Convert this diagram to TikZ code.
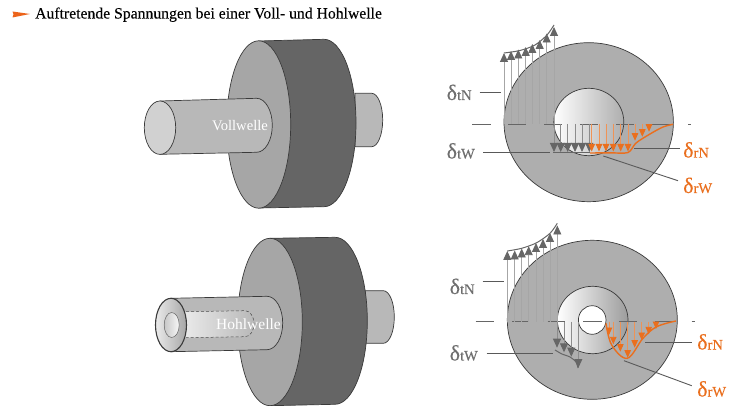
\documentclass[tikz,border=0pt]{standalone}
\usepackage{fontspec}
\setmainfont{Liberation Serif}
\usetikzlibrary{arrows.meta}
\definecolor{org}{HTML}{EA6F1E}
\definecolor{dgr}{HTML}{666666}
\definecolor{lbl}{HTML}{6E6E6E}
\definecolor{face}{HTML}{A6A6A6}
\definecolor{band}{HTML}{656565}
\definecolor{shaftc}{HTML}{B8B8B8}
\definecolor{discc}{HTML}{AEAEAE}
\definecolor{edgec}{HTML}{3A3A3A}
\newcommand{\dlab}[2]{{\addfontfeature{FakeBold=0.2}\fontsize{22}{22}\selectfont δ}{\addfontfeature{FakeBold=0.2}\fontsize{14.5}{14.5}\selectfont #1#2}}
\tikzset{
  edge/.style={draw=edgec,line width=.7pt},
  upa/.style={draw=black!35,line width=.9pt,-{Triangle[length=9pt,width=8pt,color=dgr]}},
  dna/.style={draw=black!45,line width=.9pt,-{Triangle[length=9pt,width=8pt,color=dgr]}},
  ora/.style={draw=org!75,line width=.9pt,-{Triangle[length=7.5pt,width=6.5pt,color=org]}},
  leader/.style={draw=black!65,line width=.9pt},
  cline/.style={draw=black!60,line width=.9pt},
  curveg/.style={draw=dgr,line width=1pt},
  curveo/.style={draw=org,line width=1.4pt},
  glab/.style={text=lbl,inner sep=0pt,anchor=base west},
  olab/.style={text=org,inner sep=0pt,anchor=base west},
  wlab/.style={text=white,inner sep=0pt},
}
\begin{document}
\begin{tikzpicture}[x=1pt,y=1pt]
\useasboundingbox (0,0) rectangle (750,-406);
\fill[white] (0,0) rectangle (750,-406);
% title
\fill[org!90!red] (12.5,-11.5) -- (30,-14) -- (12.5,-17.5) -- (13.5,-14.5) -- cycle;
\node[inner sep=0pt,anchor=base west] (title) at (35,-18.5) {\addfontfeature{FakeBold=0.15}\fontsize{15.7}{16}\selectfont Auftretende Spannungen bei einer Voll- und Hohlwelle};

% --- top shaft
\draw[edge,fill=shaftc] (355,-93.3) -- (371.7,-93.3) arc[start angle=90,end angle=-90,x radius=11,y radius=26.7] -- (355,-146.7) -- cycle;
\draw[edge,fill=band] (258.7,-41) -- (324,-39.3) arc[start angle=90,end angle=-90,x radius=32,y radius=83.7] -- (258.7,-208) -- cycle;
\draw[edge,fill=face] (258.7,-124.5) ellipse[x radius=32,y radius=83.7];
\draw[edge,fill=shaftc] (160,-101) -- (256.6,-98.3) arc[start angle=90,end angle=-90,x radius=15.7,y radius=27] -- (160,-154.3) -- cycle;
\draw[edge,fill=black!18] (160,-127.7) ellipse[x radius=15.7,y radius=26.7];
\node[wlab,font=\fontsize{14.6}{15}\selectfont] (voll) at (240,-125.5) {Vollwelle};

% --- bottom shaft
\draw[edge,fill=shaftc] (365,-290.7) -- (383.3,-290.7) arc[start angle=90,end angle=-90,x radius=11,y radius=26.3] -- (365,-343.3) -- cycle;
\draw[edge,fill=band] (270,-238.3) -- (335,-237.3) arc[start angle=90,end angle=-90,x radius=32.3,y radius=83.5] -- (270,-405.7) -- cycle;
\draw[edge,fill=face] (270,-322) ellipse[x radius=32.3,y radius=83.7];
\draw[edge,fill=shaftc] (171,-298.3) -- (267,-296.3) arc[start angle=90,end angle=-90,x radius=15.7,y radius=26.7] -- (171,-351.7) -- cycle;
\shade[left color=black!8,middle color=black!6,right color=shaftc] (183,-311.7) -- (245,-310.7) arc[start angle=90,end angle=-90,x radius=9,y radius=13] -- (183,-337.7) -- cycle;
\draw[densely dashed,draw=black!70,line width=.5pt] (186,-311.7) -- (245,-310.7) arc[start angle=90,end angle=-90,x radius=9,y radius=13] -- (186,-337.7);
\draw[draw=edgec,line width=1.1pt,left color=black!8,right color=black!35] (171,-325) ellipse[x radius=15.5,y radius=26.7];
\draw[draw=black!60,line width=.5pt,left color=black!22,right color=black!3] (171.7,-325) ellipse[x radius=7.5,y radius=12.5];
\node[wlab,font=\fontsize{15.5}{16}\selectfont] (hohl) at (248.5,-324.5) {Hohlwelle};

% --- top cross section
\draw[edge,fill=discc] (588.7,-122.2) ellipse[x radius=84.7,y radius=79.5];
\draw[edge,shading angle=-40,left color=white,right color=discc] (588.8,-122) ellipse[x radius=35,y radius=33.7];
\foreach \a/\b in {472.3/490.7,508.3/526,544/561.7,580/597.7,616/634,652/670,688.3/691}
  \draw[cline] (\a,-124) -- (\b,-124);
\foreach \x/\y in {504/53,511/51,518.3/49.5,525.7/47,532.3/44,539.7/40,546.7/33.5,554/27}
  \draw[upa] (\x,-124) -- (\x,-\y);
\draw[curveg] plot[smooth] coordinates {(504,-53) (520,-50.5) (535,-45) (547,-35) (554,-25)};
\foreach \x in {554,560.7,567.7,575,582,589.3}
  \draw[dna] (\x,-124) -- (\x,-152);
\draw[draw=dgr,line width=1.1pt] (553,-152.5) -- (590,-152.5);
\foreach \x/\y in {591.7/151.5,599/151.5,606/151.5,613.3/151.5,620.7/151.5,628/151.5,635/140.7,642.3/136.7,649/131.7}
  \draw[ora] (\x,-124) -- (\x,-\y);
\draw[curveo] plot[smooth,tension=.5] coordinates {(590,-153) (610,-152.8) (628,-152.5) (636,-143) (650,-134) (663,-127) (673,-124.3)};
\node[glab] (a1) at (446.5,-100) {\dlab tN};
\coordinate (a1l) at (479.5,-92);
\coordinate (a1r) at (500.7,-92);
\draw[leader] (a1l) -- (a1r);
\node[glab] (a2) at (446.5,-158.5) {\dlab tW};
\coordinate (a2l) at (483.3,-152.3);
\coordinate (a2r) at (550,-152.3);
\draw[leader] (a2l) -- (a2r);
\node[olab] (a3) at (683,-157.5) {\dlab rN};
\coordinate (a3l) at (634,-148);
\coordinate (a3r) at (680,-148);
\draw[leader] (a3l) -- (a3r);
\node[olab] (a4) at (683,-193) {\dlab rW};
\coordinate (a4l) at (603.3,-156);
\coordinate (a4r) at (678,-180.7);
\draw[leader] (a4l) -- (a4r);

% --- bottom cross section
\draw[edge,fill=discc] (592.3,-319.8) ellipse[x radius=85,y radius=79.5];
\draw[edge,shading angle=-20,left color=white,right color=discc!90!black] (592.7,-320) ellipse[x radius=35.3,y radius=33.7];
\draw[edge,fill=white] (592.2,-320) ellipse[x radius=13.8,y radius=14.3];
\foreach \a/\b in {475.7/494,512/529.3,547.7/565,583.3/601.7,619.3/636.7,655/673.3,691.7/695}
  \draw[cline] (\a,-321.7) -- (\b,-321.7);
\foreach \x/\y in {507.3/251,514.7/250.5,521.7/248.5,528.7/246.2,536/243,543/239,550/233,557.3/225.5}
  \draw[upa] (\x,-321.7) -- (\x,-\y);
\draw[curveg] plot[smooth] coordinates {(507.3,-251) (521.7,-248.3) (536.7,-242.7) (550,-233.3) (557.3,-223.3)};
\foreach \x/\y in {557/347.7,564/352.3,571.3/356.7,578.3/368}
  \draw[dna] (\x,-321.7) -- (\x,-\y);
\draw[curveg] plot[smooth] coordinates {(555,-350) (562,-354) (570,-357) (576,-362) (578,-368)};
\foreach \x/\y in {609/335,613.3/344.3,620.3/351.7,627.7/357.7,634.7/347.7,641.7/340,648.7/334.3,656/329}
  \draw[ora] (\x,-321.7) -- (\x,-\y);
\draw[curveo] plot[smooth,tension=.6] coordinates {(606,-323.3) (611.7,-345) (627.3,-358.3) (643,-338.3) (656.7,-326.7) (676,-321)};
\node[glab] (b1) at (449.5,-294) {\dlab tN};
\coordinate (b1l) at (482.7,-281);
\coordinate (b1r) at (504,-281);
\draw[leader] (b1l) -- (b1r);
\node[glab] (b2) at (449.5,-360.5) {\dlab tW};
\coordinate (b2l) at (486.7,-353.3);
\coordinate (b2r) at (553.3,-353.3);
\draw[leader] (b2l) -- (b2r);
\node[olab] (b3) at (697,-349.5) {\dlab rN};
\coordinate (b3l) at (645,-342.7);
\coordinate (b3r) at (691.7,-342.7);
\draw[leader] (b3l) -- (b3r);
\node[olab] (b4) at (697,-396.5) {\dlab rW};
\coordinate (b4l) at (624,-360.7);
\coordinate (b4r) at (691.7,-385.7);
\draw[leader] (b4l) -- (b4r);
\end{tikzpicture}
\end{document}
